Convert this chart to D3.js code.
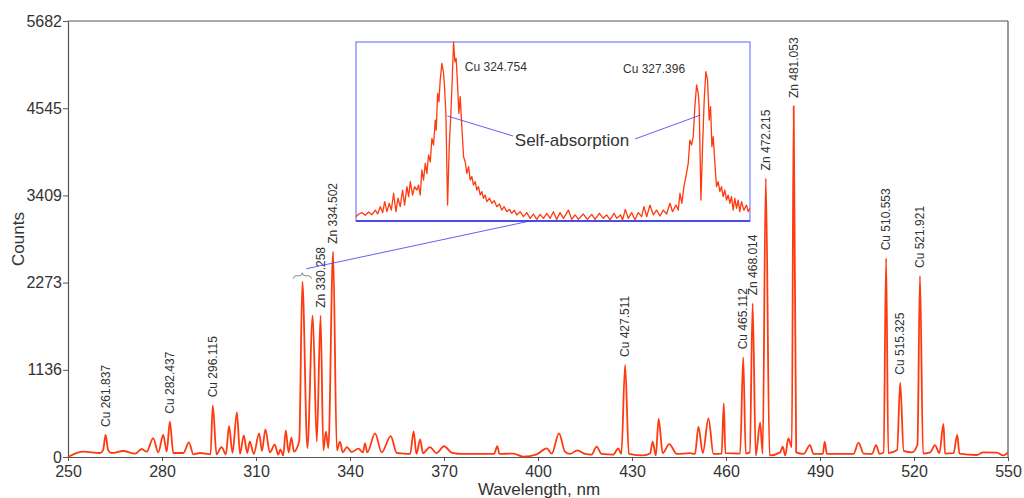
<!DOCTYPE html>
<html><head><meta charset="utf-8">
<script src="https://cdn.jsdelivr.net/npm/d3@7"></script>
<style>
body{margin:0;background:#fff;}
svg{display:block;font-family:"Liberation Sans",Arial,sans-serif;}
</style></head>
<body><svg id="c" width="1024" height="498"></svg>
<script>
// ---- data ----
const wavelengths = [250,254.9,260.2,261.2,262.0,262.8,263.9,267.6,271.4,273.5,275.1,277.2,278.8,280.4,281.5,282.5,283.6,286.8,288.6,290.0,292.1,295.5,296.2,297.4,299.0,300.4,301.4,302.5,303.9,304.9,306.1,307.2,308.0,309.3,311.0,311.9,313.0,314.4,316.0,317.1,317.8,318.7,319.5,320.4,321.3,322.1,323.8,324.8,326.4,328.1,329.4,330.6,331.5,332.3,333.1,334.6,335.8,336.8,337.7,339.0,340.5,342.7,344.1,344.8,345.5,348.0,350.1,353.0,354.9,357.0,359.2,360.3,361.2,362.4,363.3,365.5,367.6,370.0,372.6,376.2,386.0,387.0,387.7,392.1,395.3,399.6,402.8,404.4,406.7,408.6,410.2,412.6,415.0,417.1,418.7,420.3,424.0,425.6,426.6,427.8,429.0,433.6,435.8,436.6,437.6,438.5,439.8,441.9,444.3,448.5,450.1,451.2,452.6,454.4,456.0,458.6,459.3,459.8,464.5,465.5,466.3,467.6,468.5,469.5,470.9,471.7,472.7,473.9,477.3,478.1,478.9,479.9,481.0,481.6,482.4,484.8,486.8,487.9,490.9,491.5,492.2,500.7,502.3,503.9,506.6,507.9,509.0,510.3,511.1,511.8,514.6,515.6,516.7,519.3,521.1,521.9,522.9,525.2,526.7,528.1,529.4,529.9,532.6,533.8,534.5,540.0,542.1,546.4,548.5,550];
const counts = [0,69,52,90,287,90,52,78,43,104,69,247,60,287,69,460,52,52,191,35,52,35,673,35,130,35,404,52,582,40,282,52,204,40,308,78,360,60,160,30,100,20,347,60,252,70,208,2284,117,1841,200,1841,87,330,117,2675,87,200,60,130,65,108,60,178,60,308,60,273,55,45,40,335,40,230,50,130,50,140,55,40,40,140,40,45,5,35,113,45,308,70,40,87,40,30,134,40,30,113,40,1199,40,20,50,200,20,495,50,169,40,50,40,395,50,504,40,45,699,50,45,1299,45,60,2003,20,447,45,3631,20,60,134,20,243,130,4573,60,40,156,40,40,200,40,40,187,45,40,156,40,60,2589,50,90,968,80,60,160,2359,45,60,156,50,430,45,50,287,45,26,60,56,20,60];

const xTicks = [250,280,310,340,370,400,430,460,490,520,550];
const yTicks = [0,1136,2273,3409,4545,5682];

const labelTexts = ["Cu 261.837","Cu 282.437","Cu 296.115","Zn 330.258","Zn 334.502","Cu 427.511","Cu 465.112","Zn 468.014","Zn 472.215","Zn 481.053","Cu 510.553","Cu 515.325","Cu 521.921"];
const labelWl = [262.0,282.5,296.2,330.6,334.6,427.8,465.5,468.5,472.7,481.6,511.1,515.6,521.9];
const labelCounts = [287,460,673,1841,2675,1199,1299,2003,3631,4573,2589,968,2359];

// inset (zoom of the Cu 324.754 / 327.396 doublet, relative intensity)
const insetWl = [323.810,323.838,323.872,323.907,323.941,323.976,324.011,324.035,324.063,324.087,324.108,324.132,324.156,324.177,324.201,324.225,324.246,324.270,324.294,324.315,324.339,324.357,324.374,324.398,324.419,324.443,324.460,324.478,324.495,324.512,324.530,324.547,324.564,324.582,324.599,324.616,324.634,324.644,324.658,324.672,324.685,324.703,324.720,324.730,324.744,324.762,324.779,324.796,324.810,324.824,324.838,324.851,324.865,324.879,324.893,324.910,324.928,324.945,324.962,324.980,324.997,325.014,325.031,325.049,325.066,325.083,325.101,325.118,325.135,325.152,325.170,325.197,325.222,325.246,325.274,325.301,325.325,325.350,325.377,325.405,325.429,325.454,325.481,325.516,325.550,325.585,325.620,325.654,325.689,325.723,325.758,325.793,325.827,325.862,325.896,325.931,325.966,326.018,326.052,326.087,326.121,326.173,326.215,326.260,326.294,326.339,326.381,326.415,326.450,326.492,326.519,326.561,326.581,326.609,326.640,326.675,326.709,326.744,326.779,326.803,326.831,326.865,326.900,326.934,326.969,327.004,327.038,327.073,327.100,327.135,327.159,327.177,327.197,327.218,327.239,327.263,327.280,327.298,327.315,327.332,327.350,327.367,327.377,327.395,327.412,327.429,327.446,327.464,327.481,327.495,327.509,327.523,327.540,327.557,327.574,327.592,327.609,327.626,327.643,327.661,327.678,327.696,327.713,327.730,327.747,327.765,327.782,327.799,327.817,327.841,327.869,327.886,327.903];
const insetVal = [2.4,3.9,4.7,3.2,5.0,3.5,6.1,3.9,8.0,4.7,10.8,5.2,9.9,6.1,15.5,5.2,12.7,8.0,17.3,8.9,19.2,13.6,22.0,14.5,19.2,17.3,20.1,14.5,28.5,22.9,32.2,26.6,36.9,33.1,46.2,42.5,56.4,50.8,71.3,66.7,78.8,88.1,82.5,75.0,60.1,8.9,41.5,60.1,78.8,100,89.0,90.9,76.9,60.1,69.5,52.7,35.9,33.1,26.6,30.4,22.9,24.8,20.1,22.0,17.3,19.2,14.5,16.4,12.7,14.5,10.8,12.7,9.9,11.4,8.0,9.5,6.1,8.0,5.2,6.5,4.3,6.1,3.4,5.2,2.4,4.7,1.5,3.9,0.9,3.7,1.5,4.3,1.5,5.2,0.9,4.7,1.5,6.1,0.9,3.4,0.9,3.9,0.9,3.7,0.9,4.3,1.5,3.4,0.6,4.3,1.5,3.4,0.6,6.5,1.5,4.7,0.6,4.7,2.4,8.0,2.4,8.9,3.4,6.1,2.8,6.1,3.9,9.9,5.2,8.9,6.1,15.5,9.9,19.2,24.8,32.2,45.2,42.5,47.1,63.9,76.0,71.3,63.9,11.7,41.5,67.6,83.4,78.8,56.4,63.9,41.5,47.1,32.2,19.2,22.0,16.4,19.2,13.6,17.3,11.7,14.5,9.9,13.6,6.1,12.7,7.1,11.7,5.2,10.8,6.1,8.9,5.2,7.1];
const insetLabels = ["Cu 324.754","Cu 327.396"];
const insetLabelWl = [324.754,327.396];
const annotation = "Self-absorption";

// ---- drawing ----
const svg = d3.select("#c");
const x = d3.scaleLinear().domain([250,550]).range([68,1008]);
const y = d3.scaleLinear().domain([0,5682]).range([457,21]);
const axisCol = "#555", textCol = "#333", red = "#ff3a0f";

// frame: top & right lines
svg.append("line").attr("x1",68).attr("x2",1008).attr("y1",21).attr("y2",21).attr("stroke",axisCol).attr("stroke-width",1.2);
svg.append("line").attr("x1",1008).attr("x2",1008).attr("y1",21).attr("y2",457).attr("stroke",axisCol).attr("stroke-width",1.2);

const xAxis = svg.append("g").attr("transform","translate(0,457)")
  .call(d3.axisBottom(x).tickValues(xTicks).tickFormat(d3.format("d")).tickSize(4).tickPadding(5).tickSizeOuter(0));
const yAxis = svg.append("g").attr("transform","translate(68,0)")
  .call(d3.axisLeft(y).tickValues(yTicks).tickFormat(d3.format("d")).tickSize(5).tickPadding(1).tickSizeOuter(0));
[xAxis,yAxis].forEach(g=>{
  g.select(".domain").attr("stroke",axisCol).attr("stroke-width",1.2);
  g.selectAll(".tick line").attr("stroke",axisCol);
  g.selectAll(".tick text").attr("fill",textCol).style("font-size","16px").style("font-family","Liberation Sans, Arial, sans-serif");
});

svg.append("text").attr("x",539).attr("y",495).attr("text-anchor","middle")
  .attr("fill",textCol).style("font-size","17px").text("Wavelength, nm");
svg.append("text").attr("transform","translate(24,239) rotate(-90)").attr("text-anchor","middle")
  .attr("fill",textCol).style("font-size","17px").text("Counts");

// spectrum
const pts = wavelengths.map((w,i)=>[w,counts[i]]);
svg.append("path").datum(pts)
  .attr("fill","none").attr("stroke",red).attr("stroke-width",1.8).attr("stroke-linejoin","round")
  .attr("d",d3.line().x(d=>x(d[0])).y(d=>y(d[1])).curve(d3.curveMonotoneX));

// peak labels
labelTexts.forEach((t,i)=>{
  const px = x(labelWl[i]), py = y(labelCounts[i]) - 8;
  svg.append("text").attr("transform",`translate(${px},${py}) rotate(-90)`)
    .attr("dy","0.35em").attr("fill",textCol).style("font-size","12px").text(t);
});

// brace over the self-absorbed doublet
const bm = x(324.8), by = y(2284) - 3;
svg.append("path")
  .attr("d",`M${bm-9},${by} q0,-3 3,-3 L${bm-3},${by-3} q3,0 3,-3 q0,3 3,3 L${bm+6},${by-3} q3,0 3,3`)
  .attr("fill","none").attr("stroke","#777").attr("stroke-width",0.9);

// connector line to inset
const ix = d3.scaleLinear().domain([323.81,327.905]).range([356,750]);
const iy = d3.scaleLinear().domain([0,100]).range([221,42]);
svg.append("line").attr("x1",bm+4).attr("y1",by-10).attr("x2",530).attr("y2",221)
  .attr("stroke","#4f4ff5").attr("stroke-width",0.9);

// inset
svg.append("rect").attr("x",356).attr("y",42).attr("width",394).attr("height",179)
  .attr("fill","#fff").attr("stroke","#7a7aff").attr("stroke-width",1.2);
svg.append("line").attr("x1",356).attr("x2",750).attr("y1",221).attr("y2",221)
  .attr("stroke","#2a2ae0").attr("stroke-width",1.5);
const ipts = insetWl.map((w,i)=>[w,insetVal[i]]);
svg.append("path").datum(ipts).attr("fill","none").attr("stroke",red).attr("stroke-width",1.3)
  .attr("stroke-linejoin","round")
  .attr("d",d3.line().x(d=>ix(d[0])).y(d=>iy(d[1])));
svg.append("text").attr("x",ix(insetLabelWl[0])+18).attr("y",71).attr("fill",textCol)
  .style("font-size","12px").text(insetLabels[0]);
svg.append("text").attr("x",ix(insetLabelWl[1])-78).attr("y",73).attr("fill",textCol)
  .style("font-size","12px").text(insetLabels[1]);
svg.append("text").attr("x",572).attr("y",146).attr("text-anchor","middle").attr("fill",textCol)
  .style("font-size","17px").text(annotation);
svg.append("line").attr("x1",ix(324.74)+2).attr("y1",116).attr("x2",513).attr("y2",136)
  .attr("stroke","#4f4ff5").attr("stroke-width",0.9);
svg.append("line").attr("x1",635).attr("y1",139).attr("x2",ix(327.38)+1).attr("y2",115)
  .attr("stroke","#4f4ff5").attr("stroke-width",0.9);
</script></body></html>
